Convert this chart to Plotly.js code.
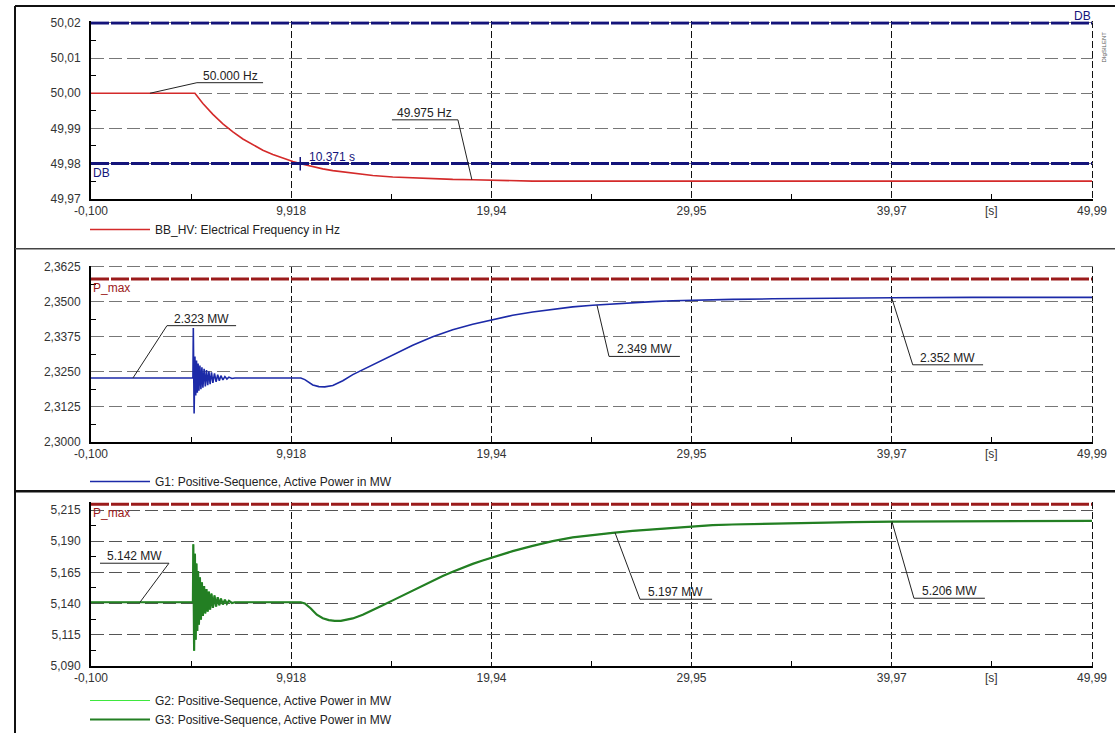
<!DOCTYPE html>
<html>
<head>
<meta charset="utf-8">
<script src="https://cdn.plot.ly/plotly-3.0.1.min.js"></script>
<style>html,body{margin:0;padding:0;background:#fff;}#chart{width:1115px;height:734px;}</style>
</head>
<body>
<div id="chart"></div>
<script>
// ---- tick labels ----
const timeTicks = [-0.1, 9.918, 19.94, 29.95, 39.97, 49.99];
const timeTickText = ['-0,100', '9,918', '19,94', '29,95', '39,97', '49,99'];
const timeMinor = [4.909, 14.929, 24.945, 34.96, 44.98];
const freqTicks = [49.97, 49.98, 49.99, 50.00, 50.01, 50.02];
const freqTickText = ['49,97', '49,98', '49,99', '50,00', '50,01', '50,02'];
const freqMinor = [49.975, 49.985, 49.995, 50.005, 50.015];
const g1Ticks = [2.3000, 2.3125, 2.3250, 2.3375, 2.3500, 2.3625];
const g1TickText = ['2,3000', '2,3125', '2,3250', '2,3375', '2,3500', '2,3625'];
const g1Minor = [2.30625, 2.31875, 2.33125, 2.34375, 2.35625];
const g3Ticks = [5.090, 5.115, 5.140, 5.165, 5.190, 5.215];
const g3TickText = ['5,090', '5,115', '5,140', '5,165', '5,190', '5,215'];
const g3Minor = [5.1025, 5.1275, 5.1525, 5.1775, 5.2025];

// ---- limits ----
const dbLimits = [50.02, 49.98];
const pMaxG1 = 2.3582;
const pMaxG3 = 5.2196;

// ---- series ----
const freqTime = [-0.1, 5.1, 5.5, 6, 6.5, 7, 7.5, 8, 8.5, 9, 9.5, 10, 10.5, 11, 11.5, 12, 13, 14, 15, 16, 17, 18, 19, 20, 21, 22, 49.99];
const freqHz = [50.000, 50.000, 49.9971, 49.9940, 49.9913, 49.9890, 49.9870, 49.9853, 49.9838, 49.9826, 49.9815, 49.9806, 49.9798, 49.9791, 49.9785, 49.9780, 49.9772, 49.9766, 49.9762, 49.9759, 49.9757, 49.9755, 49.9754, 49.9753, 49.9751, 49.9750, 49.9750];

const g1Time = [-0.1, 5.00, 5.02, 5.06, 5.10, 5.14, 5.18, 5.22, 5.26, 5.30, 5.35, 5.40, 5.45, 5.50, 5.56, 5.62, 5.68, 5.74, 5.80, 5.86, 5.93, 6.00, 6.08, 6.16, 6.24, 6.32, 6.40, 6.50, 6.60, 6.70, 6.80, 6.95, 7.10, 10.40, 10.60, 10.80, 11.00, 11.30, 11.60, 12.00, 12.50, 13.00, 13.50, 14.00, 14.50, 15.00, 16.00, 17.00, 18.00, 19.00, 20.00, 21.00, 22.00, 23.00, 24.00, 25.00, 26.00, 27.00, 28.00, 29.00, 30.00, 32.00, 34.00, 36.00, 38.00, 40.00, 44.00, 49.99];
const g1Power = [2.3228, 2.3228, 2.3407, 2.3101, 2.3305, 2.3165, 2.3290, 2.3175, 2.3280, 2.3182, 2.3272, 2.3188, 2.3266, 2.3193, 2.3261, 2.3198, 2.3256, 2.3202, 2.3252, 2.3206, 2.3248, 2.3210, 2.3244, 2.3214, 2.3240, 2.3218, 2.3236, 2.3221, 2.3233, 2.3224, 2.3231, 2.3226, 2.3228, 2.3228, 2.3222, 2.3212, 2.3203, 2.3197, 2.3196, 2.3201, 2.3218, 2.3240, 2.3258, 2.3276, 2.3294, 2.3311, 2.3345, 2.3375, 2.3400, 2.3420, 2.3437, 2.3452, 2.3464, 2.3474, 2.3482, 2.3488, 2.3493, 2.3497, 2.3501, 2.3504, 2.3506, 2.3509, 2.3511, 2.3513, 2.3514, 2.3515, 2.3516, 2.3516];

const g3Time = [-0.1, 5.00, 5.02, 5.06, 5.10, 5.14, 5.18, 5.22, 5.26, 5.30, 5.35, 5.40, 5.45, 5.50, 5.56, 5.62, 5.68, 5.74, 5.80, 5.86, 5.93, 6.00, 6.08, 6.16, 6.24, 6.32, 6.40, 6.50, 6.60, 6.70, 6.80, 6.95, 7.10, 10.40, 10.60, 10.90, 11.20, 11.50, 11.80, 12.10, 12.40, 12.70, 13.00, 13.50, 14.00, 14.50, 15.00, 15.50, 16.00, 16.50, 17.00, 17.50, 18.00, 18.50, 19.00, 19.50, 20.00, 21.00, 22.00, 23.00, 24.00, 25.00, 26.00, 27.00, 28.00, 29.00, 30.00, 31.00, 32.00, 34.00, 36.00, 38.00, 40.00, 43.00, 46.00, 49.99];
const g3Power = [5.1410, 5.1410, 5.1875, 5.1020, 5.1800, 5.1110, 5.1720, 5.1180, 5.1660, 5.1230, 5.1610, 5.1270, 5.1570, 5.1300, 5.1540, 5.1320, 5.1515, 5.1335, 5.1495, 5.1350, 5.1480, 5.1365, 5.1465, 5.1375, 5.1450, 5.1385, 5.1440, 5.1392, 5.1430, 5.1398, 5.1422, 5.1404, 5.1410, 5.1410, 5.1400, 5.1360, 5.1310, 5.1282, 5.1267, 5.1260, 5.1260, 5.1268, 5.1280, 5.1310, 5.1345, 5.1385, 5.1425, 5.1465, 5.1505, 5.1545, 5.1583, 5.1620, 5.1655, 5.1688, 5.1718, 5.1745, 5.1770, 5.1820, 5.1862, 5.1900, 5.1930, 5.1950, 5.1967, 5.1982, 5.1995, 5.2008, 5.2020, 5.2028, 5.2034, 5.2042, 5.2048, 5.2053, 5.2057, 5.2060, 5.2062, 5.2063];
const g2Time = g3Time;
const g2Power = g3Power;

// ---- styling ----
const FONT = 'Liberation Sans, Arial, sans-serif';
const NAVY = '#14147a';
const PMAX = '#9b1b1b';
const xEnds = [timeTicks[0], timeTicks[timeTicks.length - 1]];

const traces = [
  {x: freqTime, y: freqHz, xaxis: 'x', yaxis: 'y', mode: 'lines', name: 'BB_HV: Electrical Frequency in Hz',
   line: {color: '#d42a2a', width: 1.6}, legend: 'legend'},
  {x: xEnds, y: [dbLimits[0], dbLimits[0]], xaxis: 'x', yaxis: 'y', mode: 'lines', showlegend: false,
   line: {color: NAVY, width: 3, dash: '18px,2px'}},
  {x: xEnds, y: [dbLimits[1], dbLimits[1]], xaxis: 'x', yaxis: 'y', mode: 'lines', showlegend: false,
   line: {color: NAVY, width: 3, dash: '18px,2px'}},
  {x: xEnds, y: [pMaxG1, pMaxG1], xaxis: 'x2', yaxis: 'y2', mode: 'lines', showlegend: false,
   line: {color: PMAX, width: 3, dash: '18px,2px'}},
  {x: g1Time, y: g1Power, xaxis: 'x2', yaxis: 'y2', mode: 'lines', name: 'G1: Positive-Sequence, Active Power in MW',
   line: {color: '#1c2aa8', width: 1.6}, legend: 'legend2'},
  {x: xEnds, y: [pMaxG3, pMaxG3], xaxis: 'x3', yaxis: 'y3', mode: 'lines', showlegend: false,
   line: {color: PMAX, width: 3, dash: '18px,2px'}},
  {x: g2Time, y: g2Power, xaxis: 'x3', yaxis: 'y3', mode: 'lines', name: 'G2: Positive-Sequence, Active Power in MW',
   line: {color: '#3ee83e', width: 1}, legend: 'legend3'},
  {x: g3Time, y: g3Power, xaxis: 'x3', yaxis: 'y3', mode: 'lines', name: 'G3: Positive-Sequence, Active Power in MW',
   line: {color: '#237f23', width: 2.2}, legend: 'legend3'}
];

const xDomain = [91 / 1115, 1093.2 / 1115];
function xAxis(anchor) {
  return {
    domain: xDomain, anchor: anchor, range: [-0.1, 50.05], fixedrange: true,
    tickmode: 'array', tickvals: timeTicks, ticktext: timeTickText, ticks: '',
    tickfont: {family: FONT, size: 12, color: '#333'},
    showline: true, linecolor: '#000', linewidth: 2, zeroline: false,
    showgrid: true, gridcolor: '#111', gridwidth: 1, griddash: '7px,3px',
    minor: {tickmode: 'array', tickvals: timeMinor, ticks: 'inside', ticklen: 5, tickwidth: 1, tickcolor: '#000', showgrid: false}
  };
}
function yAxis(anchor, domain, range, vals, text, minor, gridcolor) {
  return {
    domain: domain, anchor: anchor, range: range, fixedrange: true,
    tickmode: 'array', tickvals: vals, ticktext: text, ticks: '', ticklabelstandoff: 6,
    tickfont: {family: FONT, size: 12, color: '#333'},
    showline: true, linecolor: '#000', linewidth: 2, zeroline: false,
    showgrid: true, gridcolor: gridcolor, gridwidth: 1, griddash: '13px,5px',
    minor: {tickmode: 'array', tickvals: minor, ticks: 'inside', ticklen: 5, tickwidth: 1, tickcolor: '#000', showgrid: false}
  };
}

function leader(xr, yr, x0, y0, x1, y1) {
  return {type: 'line', xref: xr, yref: yr, x0: x0, y0: y0, x1: x1, y1: y1, line: {color: '#222', width: 1}};
}
function label(xr, yr, x, y, text, color, xanchor, yanchor) {
  return {xref: xr, yref: yr, x: x, y: y, text: text, showarrow: false, xanchor: xanchor || 'center', yanchor: yanchor || 'bottom',
          font: {family: FONT, size: 12, color: color || '#222'}, borderpad: 0, yshift: -1};
}
function frame(x0, y0, x1, y1, color, width) {
  return {type: 'line', xref: 'paper', yref: 'paper', x0: x0 / 1115, y0: 1 - y0 / 734, x1: x1 / 1115, y1: 1 - y1 / 734,
          line: {color: color, width: width}};
}

const shapes = [
  frame(15, 6, 1115, 6, '#111', 2),
  frame(15, 6, 15, 734, '#111', 2),
  frame(15, 249, 1115, 249, '#444', 1.5),
  frame(15, 492, 1115, 492, '#111', 2.5),
  // panel 1 readouts
  leader('x', 'y', 2.85, 50.000, 5.20, 50.0030),
  leader('x', 'y', 5.20, 50.0030, 8.51, 50.0030),
  {type: 'line', xref: 'x', yref: 'y', x0: 10.371, x1: 10.371, y0: 49.9780, y1: 49.9819, line: {color: NAVY, width: 1.5}},
  leader('x', 'y', 14.96, 49.99244, 18.26, 49.99244),
  leader('x', 'y', 18.26, 49.99244, 18.96, 49.9754),
  // panel 2 readouts
  leader('x2', 'y2', 2.00, 2.3228, 3.70, 2.3415),
  leader('x2', 'y2', 3.70, 2.3415, 7.16, 2.3415),
  leader('x2', 'y2', 25.22, 2.3488, 25.82, 2.3305),
  leader('x2', 'y2', 25.82, 2.3305, 29.37, 2.3305),
  leader('x2', 'y2', 39.97, 2.3514, 41.02, 2.3275),
  leader('x2', 'y2', 41.02, 2.3275, 44.54, 2.3275),
  // panel 3 readouts
  leader('x3', 'y3', 2.35, 5.1410, 3.80, 5.1723),
  leader('x3', 'y3', 0.35, 5.1723, 3.80, 5.1723),
  leader('x3', 'y3', 26.12, 5.1969, 27.37, 5.1434),
  leader('x3', 'y3', 27.37, 5.1434, 30.98, 5.1434),
  leader('x3', 'y3', 39.98, 5.2057, 41.08, 5.1442),
  leader('x3', 'y3', 41.08, 5.1442, 44.63, 5.1442)
];

const annotations = [
  label('x', 'y', 6.86, 50.0030, '50.000 Hz'),
  label('x', 'y', 10.75, 49.9800, '10.371 s', NAVY, 'left'),
  label('x', 'y', 16.61, 49.99244, '49.975 Hz'),
  label('x', 'y', 49.99, 50.02, 'DB', NAVY, 'right'),
  label('x', 'y', -0.05, 49.98, 'DB', NAVY, 'left', 'top'),
  label('x2', 'y2', 5.43, 2.3415, '2.323 MW'),
  label('x2', 'y2', 27.60, 2.3305, '2.349 MW'),
  label('x2', 'y2', 42.78, 2.3275, '2.352 MW'),
  label('x2', 'y2', -0.05, pMaxG1, 'P_max', PMAX, 'left', 'top'),
  label('x3', 'y3', 2.08, 5.1723, '5.142 MW'),
  label('x3', 'y3', 29.17, 5.1434, '5.197 MW'),
  label('x3', 'y3', 42.86, 5.1442, '5.206 MW'),
  label('x3', 'y3', -0.05, pMaxG3, 'P_max', PMAX, 'left', 'top'),
  {xref: 'x', yref: 'y', x: 44.98, y: 49.97, text: '[s]', showarrow: false, yanchor: 'top', yshift: -3, font: {family: FONT, size: 12, color: '#333'}},
  {xref: 'x2', yref: 'y2', x: 44.98, y: 2.3, text: '[s]', showarrow: false, yanchor: 'top', yshift: -3, font: {family: FONT, size: 12, color: '#333'}},
  {xref: 'x3', yref: 'y3', x: 44.98, y: 5.09, text: '[s]', showarrow: false, yanchor: 'top', yshift: -3, font: {family: FONT, size: 12, color: '#333'}},
  {xref: 'paper', yref: 'paper', x: 1109 / 1115, y: 1 - 30 / 734, text: 'DIgSILENT', showarrow: false, textangle: -90,
   font: {family: FONT, size: 6, color: '#555'}}
];

const legendBase = {xanchor: 'left', yanchor: 'top', bgcolor: 'rgba(0,0,0,0)', borderwidth: 0,
  font: {family: FONT, size: 12, color: '#222'}, itemwidth: 60, tracegroupgap: 0, traceorder: 'normal'};

const layout = {
  width: 1115, height: 734,
  margin: {l: 0, r: 0, t: 0, b: 0},
  paper_bgcolor: '#fff', plot_bgcolor: '#fff',
  showlegend: true,
  xaxis: xAxis('y'),
  xaxis2: xAxis('y2'),
  xaxis3: xAxis('y3'),
  yaxis: yAxis('x', [1 - 199 / 734, 1 - 21.2 / 734], [49.97, 50.0205], freqTicks, freqTickText, freqMinor, '#777'),
  yaxis2: yAxis('x2', [1 - 442.3 / 734, 1 - 265.9 / 734], [2.3, 2.3630], g1Ticks, g1TickText, g1Minor, '#777'),
  yaxis3: yAxis('x3', [1 - 666.7 / 734, 1 - 502.6 / 734], [5.09, 5.2215], g3Ticks, g3TickText, g3Minor, '#555'),
  legend: Object.assign({}, legendBase, {x: 85 / 1115, y: 1 - 215 / 734}),
  legend2: Object.assign({}, legendBase, {x: 85 / 1115, y: 1 - 467 / 734}),
  legend3: Object.assign({}, legendBase, {x: 85 / 1115, y: 1 - 686.5 / 734}),
  shapes: shapes,
  annotations: annotations
};

Plotly.newPlot('chart', traces, layout, {displayModeBar: false, staticPlot: true});
</script>
</body>
</html>
